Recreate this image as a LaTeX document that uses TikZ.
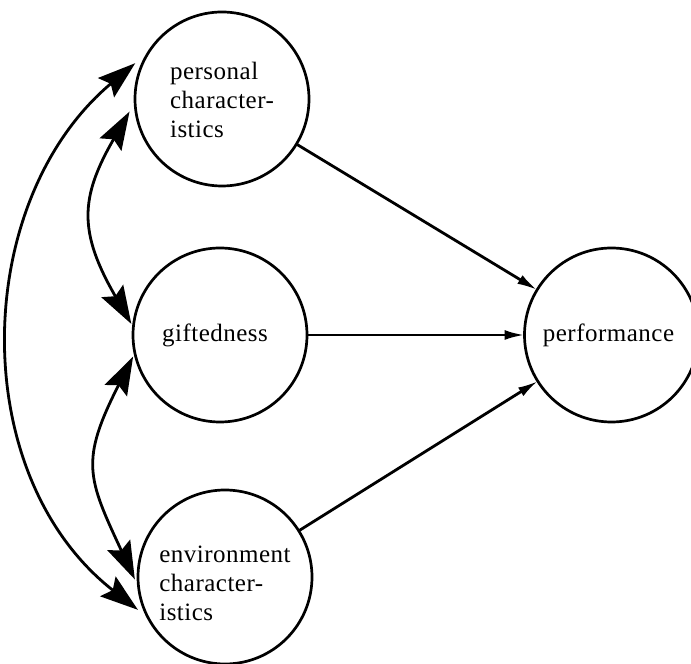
\documentclass[tikz,border=0pt]{standalone}
\usepackage{fontspec}
\setmainfont{Liberation Serif}[LetterSpace=2]
\usetikzlibrary{arrows.meta}
\begin{document}
\begin{tikzpicture}[x=1pt,y=1pt,
  ball/.style={circle,draw,line width=2.7pt,minimum size=174pt,inner sep=0pt,outer sep=0pt,
    font=\fontsize{25}{29}\selectfont},
  bigarrow/.style={line width=2.8pt,{Stealth[length=38pt,width=25pt,inset=6pt]}-{Stealth[length=38pt,width=25pt,inset=6pt]}},
  thinarrow/.style={line width=2.8pt,-{Latex[length=20pt,width=10pt]}}]
\useasboundingbox (0,0) rectangle (691,664);
\node[ball] (pers) at (222,565) {\raisebox{-10pt}[0pt][0pt]{\begin{tabular}{@{}l@{}}personal\\character-\\istics\end{tabular}}};
\node[ball] (gift) at (220,329) {\hspace*{-10pt}giftedness};
\node[ball] (env) at (225,87) {\raisebox{-15pt}[0pt][0pt]{\begin{tabular}{@{}l@{}}environment\\character-\\istics\end{tabular}}};
\node[ball] (perf) at (611.5,329) {\hspace*{-6pt}performance};
\draw[thinarrow] (pers) -- (perf);
\draw[thinarrow] (gift) -- (perf);
\draw[thinarrow] (env) -- (perf);
\draw[bigarrow,shorten <=18pt,shorten >=13pt] (pers.147.8) to[out=220,in=142,looseness=1.05] (env.208.6);
\draw[bigarrow,shorten <=11pt,shorten >=4pt] (pers.182.3) to[out=240,in=120,looseness=1.25] (gift.175.6);
\draw[bigarrow,shorten <=4pt,shorten >=9pt] (gift.192) to[out=243,in=115,looseness=1.32] (env.187.2);
\end{tikzpicture}
\end{document}
